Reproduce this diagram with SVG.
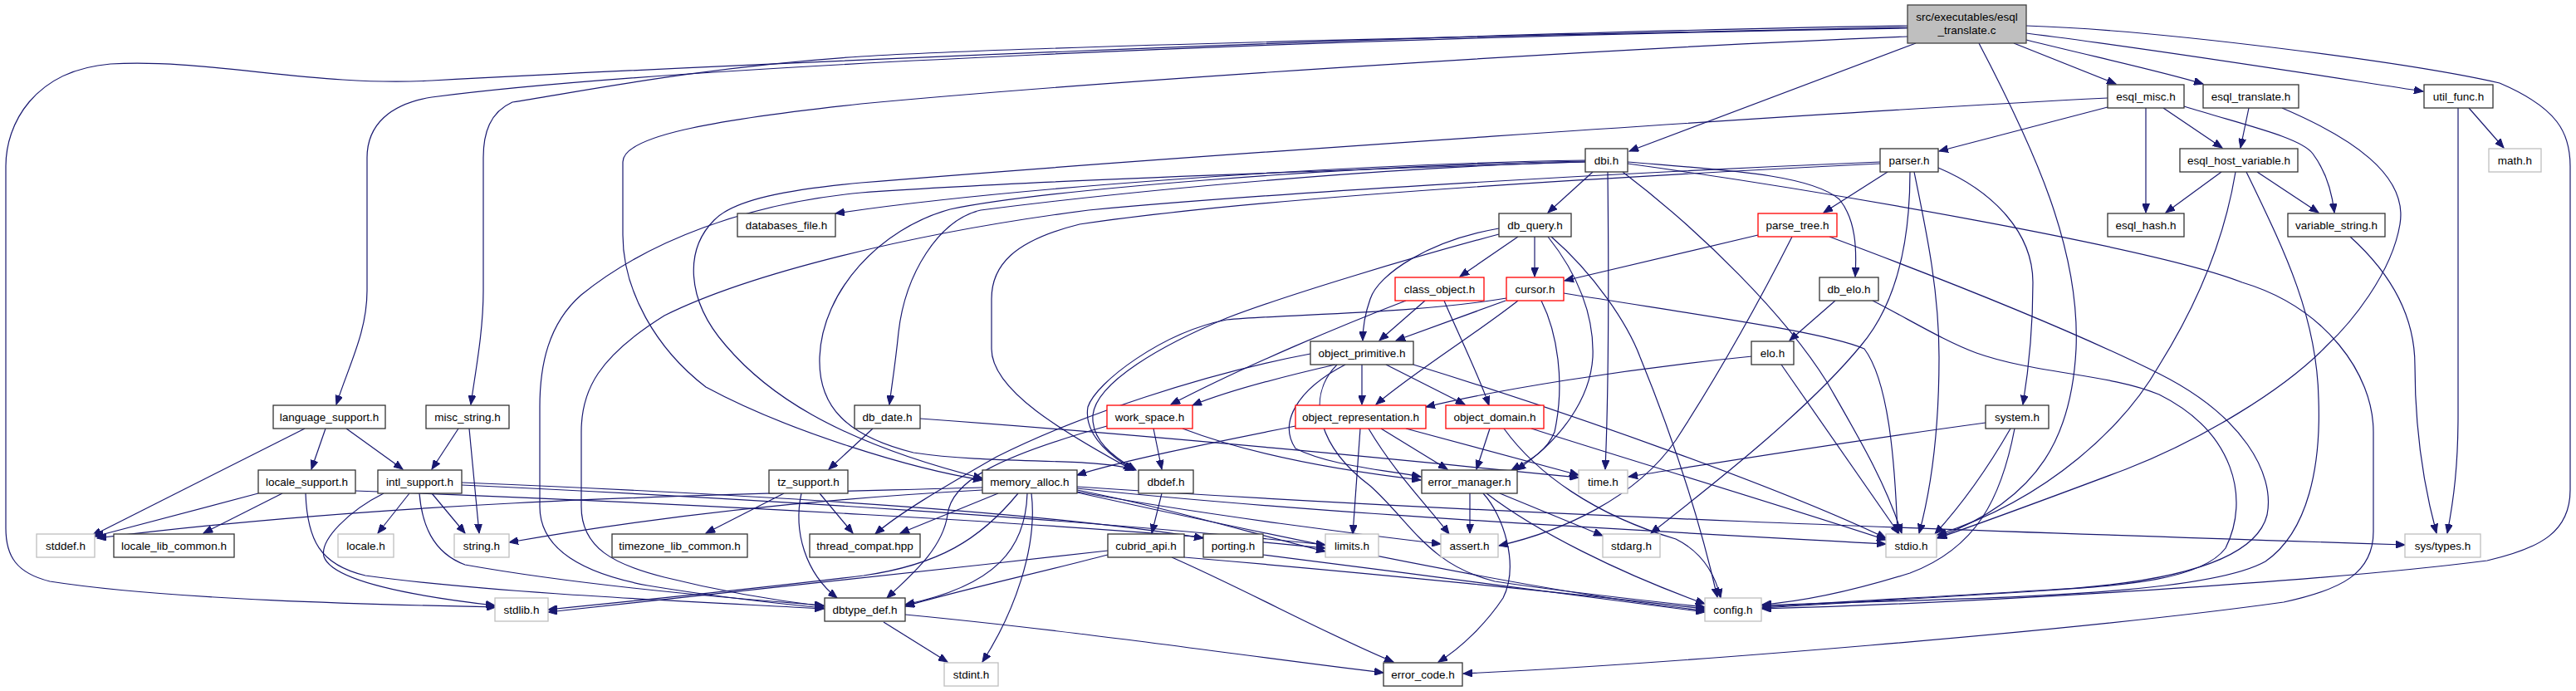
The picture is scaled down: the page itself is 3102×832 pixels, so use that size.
<svg xmlns="http://www.w3.org/2000/svg" width="3102" height="832" viewBox="0 0 3102 832">
<defs>
<marker id="a" markerWidth="12" markerHeight="9" refX="11" refY="4.5" orient="auto" markerUnits="userSpaceOnUse"><path d="M0,0 L11,4.5 L0,9 z" fill="#191970" stroke="#191970" stroke-width="1"/></marker>
</defs>
<style>
.n rect{fill:#fff;stroke:#333;stroke-width:1.3}
.g rect{fill:#fff;stroke:#bfbfbf;stroke-width:1.3}
.r rect{fill:#fff;stroke:#ff0000;stroke-width:1.3}
.root rect{fill:#bfbfbf;stroke:#404040;stroke-width:1.3}
text{font-family:"Liberation Sans",Arial,Helvetica,sans-serif;font-size:13.5px;text-anchor:middle;fill:#000}
#edges path{fill:none;stroke:#191970;stroke-width:1.2;marker-end:url(#a)}
</style>
<rect x="0" y="0" width="3102" height="832" fill="#fff"/>
<g id="edges">
<!-- root -->
<path d="M2307,52 L1962,182"/>
<path d="M2425,52 L2548,101"/>
<path d="M2440,48 C2520,68 2600,85 2653,101"/>
<path d="M2440,40 C2600,60 2800,92 2918,110"/>
<path d="M2383,52 C2450,180 2505,300 2500,420 C2495,520 2460,600 2333,647"/>
<path d="M2440,31 C2600,36 2900,75 3010,100 C3080,130 3095,160 3095,200 L3095,590 C3095,640 3060,660 2995,675 C2800,700 2400,725 2122,733"/>
<path d="M2297,31 C1700,40 800,82 520,97 C380,105 250,70 133,77 C40,85 7,150 7,200 L7,636 C7,670 20,690 60,700 C200,722 450,728 597,731"/>
<path d="M2297,34 C1600,45 800,80 520,117 C470,125 442,150 442,190 L442,350 C442,400 420,440 405,487"/>
<path d="M2297,33 C1700,45 1200,58 1037,68 C850,80 700,110 617,123 C590,135 582,160 582,190 L582,350 C582,400 572,450 567,487"/>
<path d="M2297,44 C1900,60 1300,100 1037,125 C850,145 750,165 750,195 L750,283 C750,350 790,420 850,466 C950,520 1100,565 1183,578"/>
<!-- esql_misc -->
<path d="M2538,129 L2335,182"/>
<path d="M2584,130 L2584,256"/>
<path d="M2605,130 L2676,178"/>
<path d="M2630,128 C2700,150 2770,165 2785,185 C2800,205 2808,230 2811,256"/>
<path d="M2538,118 C2200,135 1400,190 1037,220 C950,228 884,240 860,265 C825,300 825,360 874,416 C920,470 1000,530 1183,576"/>
<!-- esql_translate -->
<path d="M2708,130 L2698,178"/>
<path d="M2748,130 C2830,165 2900,210 2890,270 C2880,330 2830,390 2802,416 C2750,470 2650,530 2560,565 C2480,595 2400,625 2333,648"/>
<!-- util_func -->
<path d="M2973,130 L3015,178"/>
<path d="M2960,130 L2960,500 C2960,560 2955,600 2947,642"/>
<!-- esql_host_variable -->
<path d="M2675,207 L2608,256"/>
<path d="M2718,207 L2792,256"/>
<path d="M2692,207 C2680,280 2650,360 2600,440 C2560,510 2470,600 2333,644"/>
<path d="M2705,207 C2750,300 2790,380 2792,480 C2795,560 2780,640 2728,676 C2650,720 2350,720 2122,729"/>
<!-- variable_string -->
<path d="M2830,285 C2880,330 2908,380 2908,440 C2908,520 2920,590 2934,642"/>
<!-- dbi -->
<path d="M1909,193 C1600,198 1200,228 1006,257"/>
<path d="M1918,207 L1864,256"/>
<path d="M1936,207 C1937,300 1938,450 1933,565"/>
<path d="M1954,207 C2050,280 2150,380 2200,460 C2240,530 2270,580 2290,642"/>
<path d="M1960,195 C2080,205 2180,210 2215,240 C2235,265 2236,300 2234,333"/>
<path d="M1909,195 C1700,200 1400,225 1181,253 C1130,265 1090,330 1082,400 C1078,440 1073,470 1071,487"/>
<path d="M1909,194 C1600,200 1250,230 1144,252 C1060,275 990,350 987,430 C985,490 1020,525 1100,545 C1200,560 1320,550 1366,566"/>
<path d="M1909,195 C1600,205 1200,220 1037,232 C900,245 780,290 700,355 C660,390 650,440 650,490 L650,610 C650,660 700,690 780,705 C870,720 950,728 992,732"/>
<path d="M1960,197 C2200,230 2600,300 2700,340 C2800,370 2858,450 2858,520 L2858,640 C2858,690 2820,710 2750,725 C2500,760 2000,800 1762,811"/>
<!-- parser -->
<path d="M2273,207 L2196,256"/>
<path d="M2334,202 C2400,230 2448,280 2448,340 C2448,400 2442,450 2436,487"/>
<path d="M2305,207 C2320,280 2335,350 2335,430 C2335,520 2325,590 2311,642"/>
<path d="M2300,207 C2300,300 2280,370 2241,416 C2180,490 2080,570 1988,642"/>
<path d="M2264,195 C1900,210 1500,235 1311,253 C1100,280 900,330 800,380 C720,430 700,470 700,520 L700,610 C700,660 740,680 800,695 C880,715 950,725 992,730"/>
<path d="M2264,197 C1900,215 1500,240 1300,270 C1220,290 1194,320 1194,360 L1194,420 C1194,470 1280,520 1364,566"/>
<!-- db_query -->
<path d="M1828,285 L1758,333"/>
<path d="M1848,285 L1848,333"/>
<path d="M1805,275 C1720,290 1660,330 1650,360 C1643,380 1641,395 1641,410"/>
<path d="M1805,282 C1700,310 1550,355 1477,383 C1400,415 1320,460 1316,500 C1314,530 1340,550 1368,566"/>
<path d="M1864,285 C1900,330 1920,380 1918,430 C1915,480 1880,530 1826,566"/>
<path d="M1868,285 C1920,330 1960,390 1975,430 C2020,540 2050,640 2068,719"/>
<!-- parse_tree -->
<path d="M2117,283 L1884,338"/>
<path d="M2158,285 C2120,360 2070,450 2018,530 C1970,600 1880,640 1805,657"/>
<path d="M2203,285 C2350,340 2500,400 2600,450 C2700,500 2740,570 2730,620 C2715,680 2600,700 2500,708 C2350,718 2200,725 2122,731"/>
<!-- db_elo -->
<path d="M2210,362 L2155,410"/>
<path d="M2255,362 C2300,385 2340,410 2380,425 C2450,450 2540,450 2600,475 C2690,520 2710,600 2680,660 C2650,700 2550,705 2450,712 C2300,722 2200,727 2122,732"/>
<!-- class_object -->
<path d="M1716,362 L1661,410"/>
<path d="M1739,362 C1755,400 1780,450 1793,488"/>
<path d="M1693,362 C1620,390 1500,440 1410,487"/>
<!-- cursor -->
<path d="M1813,362 L1681,410"/>
<path d="M1828,362 C1780,400 1700,450 1657,487"/>
<path d="M1814,359 C1700,378 1550,378 1477,385 C1400,400 1320,460 1310,490 C1305,520 1330,545 1365,566"/>
<path d="M1856,362 C1875,400 1885,460 1872,520 C1862,545 1840,555 1820,566"/>
<path d="M1883,353 C2050,380 2200,400 2245,420 C2275,460 2282,560 2285,642"/>
<!-- object_primitive -->
<path d="M1640,439 L1640,487"/>
<path d="M1669,439 L1764,487"/>
<path d="M1608,439 C1560,450 1480,470 1436,488"/>
<path d="M1578,426 C1450,450 1300,500 1200,550 C1130,590 1080,620 1054,643"/>
<path d="M1702,439 C1900,500 2150,590 2271,648"/>
<path d="M1620,439 C1560,470 1540,510 1560,540 C1600,560 1660,565 1711,574"/>
<path d="M1610,439 C1570,480 1590,540 1650,585 C1700,630 1720,680 1800,700 C1900,715 2000,725 2053,731"/>
<!-- elo -->
<path d="M2110,429 C1950,445 1800,470 1717,490"/>
<path d="M2145,439 L2287,643"/>
<!-- object_representation -->
<path d="M1560,513 C1450,535 1350,555 1297,572"/>
<path d="M1663,516 L1743,565"/>
<path d="M1638,516 L1629,643"/>
<path d="M1648,516 C1680,570 1720,610 1745,643"/>
<path d="M1693,516 C1780,540 1850,558 1901,572"/>
<!-- object_domain -->
<path d="M1794,516 L1778,565"/>
<path d="M1844,516 C1950,550 2150,610 2271,650"/>
<path d="M1811,516 C1850,570 1920,620 2018,649 C2050,665 2065,690 2072,720"/>
<!-- work_space -->
<path d="M1389,516 L1399,565"/>
<path d="M1333,513 C1200,550 1145,580 1141,620 C1135,660 1100,690 1068,720"/>
<path d="M1424,516 C1500,545 1600,565 1711,578"/>
<!-- db_date -->
<path d="M1051,516 L998,565"/>
<path d="M1108,504 C1400,525 1700,555 1901,575"/>
<!-- system -->
<path d="M2391,509 C2200,535 2050,560 1961,574"/>
<path d="M2421,516 C2390,570 2360,610 2330,643"/>
<path d="M2426,516 C2410,600 2380,660 2300,690 C2220,715 2160,725 2122,728"/>
<!-- language_support -->
<path d="M367,516 L111,645"/>
<path d="M392,516 L375,565"/>
<path d="M417,516 L485,565"/>
<!-- misc_string -->
<path d="M552,516 L520,565"/>
<path d="M565,516 L577,642"/>
<!-- locale_support -->
<path d="M311,594 L114,646"/>
<path d="M340,594 L245,642"/>
<path d="M368,594 C370,650 385,680 440,693 C600,715 850,725 992,733"/>
<path d="M428,591 C800,605 1300,630 1596,660"/>
<!-- intl_support -->
<path d="M462,594 C420,615 385,650 390,670 C400,700 500,718 596,729"/>
<path d="M505,594 C508,630 520,665 560,680 C700,705 900,722 992,729"/>
<path d="M493,594 L455,642"/>
<path d="M520,594 L560,642"/>
<path d="M556,581 C900,595 1250,615 1449,648"/>
<path d="M556,584 C900,600 1300,625 1596,656"/>
<!-- tz_support -->
<path d="M944,594 L850,642"/>
<path d="M987,594 L1027,642"/>
<path d="M965,594 C955,640 970,690 1008,720"/>
<!-- memory_alloc -->
<path d="M1183,587 C900,595 500,600 117,648"/>
<path d="M1183,590 C1000,600 800,620 613,653"/>
<path d="M1202,594 L1084,642"/>
<path d="M1226,594 C1180,650 1130,680 1040,693 C900,710 750,725 660,734"/>
<path d="M1237,594 C1235,660 1200,705 1090,728"/>
<path d="M1242,594 C1250,660 1220,740 1183,797"/>
<path d="M1297,590 C1400,610 1500,640 1596,664"/>
<path d="M1297,592 C1450,620 1650,645 1735,655"/>
<path d="M1297,588 C1600,620 2000,640 2271,655"/>
<path d="M1297,586 C1800,620 2400,640 2896,656"/>
<path d="M1297,593 C1600,660 1900,720 2053,735"/>
<!-- dbdef -->
<path d="M1399,594 L1387,642"/>
<!-- error_manager -->
<path d="M1770,594 L1770,642"/>
<path d="M1806,594 L1930,645"/>
<path d="M1786,594 C1810,620 1830,680 1810,720 C1790,750 1760,780 1732,797"/>
<path d="M1790,594 C1850,640 1950,690 2053,727"/>
<!-- cubrid_api -->
<path d="M1334,663 C1100,690 850,715 660,737"/>
<path d="M1334,668 C1250,690 1150,712 1090,730"/>
<path d="M1426,671 C1650,690 1900,715 2053,733"/>
<path d="M1411,671 C1500,710 1600,765 1678,797"/>
<!-- porting -->
<path d="M1521,668 C1700,690 1900,718 2053,737"/>
<!-- dbtype_def -->
<path d="M1064,749 L1141,797"/>
<path d="M1090,740 C1300,760 1500,790 1666,810"/>
</g>
<g id="n_root" class="root"><rect x="2297" y="6" width="143" height="46"/><text x="2368.5" y="25">src/executables/esql</text><text x="2368.5" y="41">_translate.c</text></g>
<g id="n_esql_misc" class="n"><rect x="2538" y="102" width="92" height="28"/><text x="2584" y="120.7">esql_misc.h</text></g>
<g id="n_esql_translate" class="n"><rect x="2653" y="102" width="115" height="28"/><text x="2710.5" y="120.7">esql_translate.h</text></g>
<g id="n_util_func" class="n"><rect x="2919" y="102" width="83" height="28"/><text x="2960.5" y="120.7">util_func.h</text></g>
<g id="n_dbi" class="n"><rect x="1909" y="179" width="51" height="28"/><text x="1934.5" y="197.7">dbi.h</text></g>
<g id="n_parser" class="n"><rect x="2264" y="179" width="70" height="28"/><text x="2299" y="197.7">parser.h</text></g>
<g id="n_esql_host_variable" class="n"><rect x="2625" y="179" width="142" height="28"/><text x="2696" y="197.7">esql_host_variable.h</text></g>
<g id="n_math" class="g"><rect x="2997" y="179" width="63" height="28"/><text x="3028.5" y="197.7">math.h</text></g>
<g id="n_databases_file" class="n"><rect x="888" y="257" width="118" height="28"/><text x="947" y="275.7">databases_file.h</text></g>
<g id="n_db_query" class="n"><rect x="1805" y="257" width="87" height="28"/><text x="1848.5" y="275.7">db_query.h</text></g>
<g id="n_parse_tree" class="r"><rect x="2117" y="257" width="95" height="28"/><text x="2164.5" y="275.7">parse_tree.h</text></g>
<g id="n_esql_hash" class="n"><rect x="2538" y="257" width="92" height="28"/><text x="2584" y="275.7">esql_hash.h</text></g>
<g id="n_variable_string" class="n"><rect x="2755" y="257" width="117" height="28"/><text x="2813.5" y="275.7">variable_string.h</text></g>
<g id="n_class_object" class="r"><rect x="1680" y="334" width="107" height="28"/><text x="1733.5" y="352.7">class_object.h</text></g>
<g id="n_cursor" class="r"><rect x="1814" y="334" width="69" height="28"/><text x="1848.5" y="352.7">cursor.h</text></g>
<g id="n_db_elo" class="n"><rect x="2191" y="334" width="71" height="28"/><text x="2226.5" y="352.7">db_elo.h</text></g>
<g id="n_object_primitive" class="n"><rect x="1578" y="411" width="124" height="28"/><text x="1640" y="429.7">object_primitive.h</text></g>
<g id="n_elo" class="n"><rect x="2109" y="411" width="51" height="28"/><text x="2134.5" y="429.7">elo.h</text></g>
<g id="n_language_support" class="n"><rect x="329" y="488" width="135" height="28"/><text x="396.5" y="506.7">language_support.h</text></g>
<g id="n_misc_string" class="n"><rect x="513" y="488" width="100" height="28"/><text x="563" y="506.7">misc_string.h</text></g>
<g id="n_db_date" class="n"><rect x="1029" y="488" width="79" height="28"/><text x="1068.5" y="506.7">db_date.h</text></g>
<g id="n_work_space" class="r"><rect x="1333" y="488" width="103" height="28"/><text x="1384.5" y="506.7">work_space.h</text></g>
<g id="n_object_representation" class="r"><rect x="1560" y="488" width="157" height="28"/><text x="1638.5" y="506.7">object_representation.h</text></g>
<g id="n_object_domain" class="r"><rect x="1741" y="488" width="118" height="28"/><text x="1800" y="506.7">object_domain.h</text></g>
<g id="n_system" class="n"><rect x="2391" y="488" width="76" height="28"/><text x="2429" y="506.7">system.h</text></g>
<g id="n_locale_support" class="n"><rect x="311" y="566" width="117" height="28"/><text x="369.5" y="584.7">locale_support.h</text></g>
<g id="n_intl_support" class="n"><rect x="455" y="566" width="101" height="28"/><text x="505.5" y="584.7">intl_support.h</text></g>
<g id="n_tz_support" class="n"><rect x="926" y="566" width="95" height="28"/><text x="973.5" y="584.7">tz_support.h</text></g>
<g id="n_memory_alloc" class="n"><rect x="1183" y="566" width="114" height="28"/><text x="1240" y="584.7">memory_alloc.h</text></g>
<g id="n_dbdef" class="n"><rect x="1371" y="566" width="66" height="28"/><text x="1404" y="584.7">dbdef.h</text></g>
<g id="n_error_manager" class="n"><rect x="1712" y="566" width="115" height="28"/><text x="1769.5" y="584.7">error_manager.h</text></g>
<g id="n_time" class="g"><rect x="1901" y="566" width="59" height="28"/><text x="1930.5" y="584.7">time.h</text></g>
<g id="n_stddef" class="g"><rect x="44" y="643" width="70" height="28"/><text x="79" y="661.7">stddef.h</text></g>
<g id="n_locale_lib_common" class="n"><rect x="137" y="643" width="145" height="28"/><text x="209.5" y="661.7">locale_lib_common.h</text></g>
<g id="n_locale" class="g"><rect x="407" y="643" width="67" height="28"/><text x="440.5" y="661.7">locale.h</text></g>
<g id="n_string" class="g"><rect x="547" y="643" width="66" height="28"/><text x="580" y="661.7">string.h</text></g>
<g id="n_timezone_lib_common" class="n"><rect x="737" y="643" width="163" height="28"/><text x="818.5" y="661.7">timezone_lib_common.h</text></g>
<g id="n_thread_compat" class="n"><rect x="975" y="643" width="133" height="28"/><text x="1041.5" y="661.7">thread_compat.hpp</text></g>
<g id="n_cubrid_api" class="n"><rect x="1334" y="643" width="92" height="28"/><text x="1380" y="661.7">cubrid_api.h</text></g>
<g id="n_porting" class="n"><rect x="1449" y="643" width="72" height="28"/><text x="1485" y="661.7">porting.h</text></g>
<g id="n_limits" class="g"><rect x="1596" y="643" width="64" height="28"/><text x="1628" y="661.7">limits.h</text></g>
<g id="n_assert" class="g"><rect x="1735" y="643" width="69" height="28"/><text x="1769.5" y="661.7">assert.h</text></g>
<g id="n_stdarg" class="g"><rect x="1930" y="643" width="69" height="28"/><text x="1964.5" y="661.7">stdarg.h</text></g>
<g id="n_stdio" class="g"><rect x="2271" y="643" width="61" height="28"/><text x="2301.5" y="661.7">stdio.h</text></g>
<g id="n_sys_types" class="g"><rect x="2896" y="643" width="91" height="28"/><text x="2941.5" y="661.7">sys/types.h</text></g>
<g id="n_stdlib" class="g"><rect x="596" y="720" width="64" height="28"/><text x="628" y="738.7">stdlib.h</text></g>
<g id="n_dbtype_def" class="n"><rect x="993" y="720" width="97" height="28"/><text x="1041.5" y="738.7">dbtype_def.h</text></g>
<g id="n_config" class="g"><rect x="2053" y="720" width="68" height="28"/><text x="2087" y="738.7">config.h</text></g>
<g id="n_stdint" class="g"><rect x="1137" y="798" width="65" height="28"/><text x="1169.5" y="816.7">stdint.h</text></g>
<g id="n_error_code" class="n"><rect x="1666" y="798" width="95" height="28"/><text x="1713.5" y="816.7">error_code.h</text></g>
</svg>
